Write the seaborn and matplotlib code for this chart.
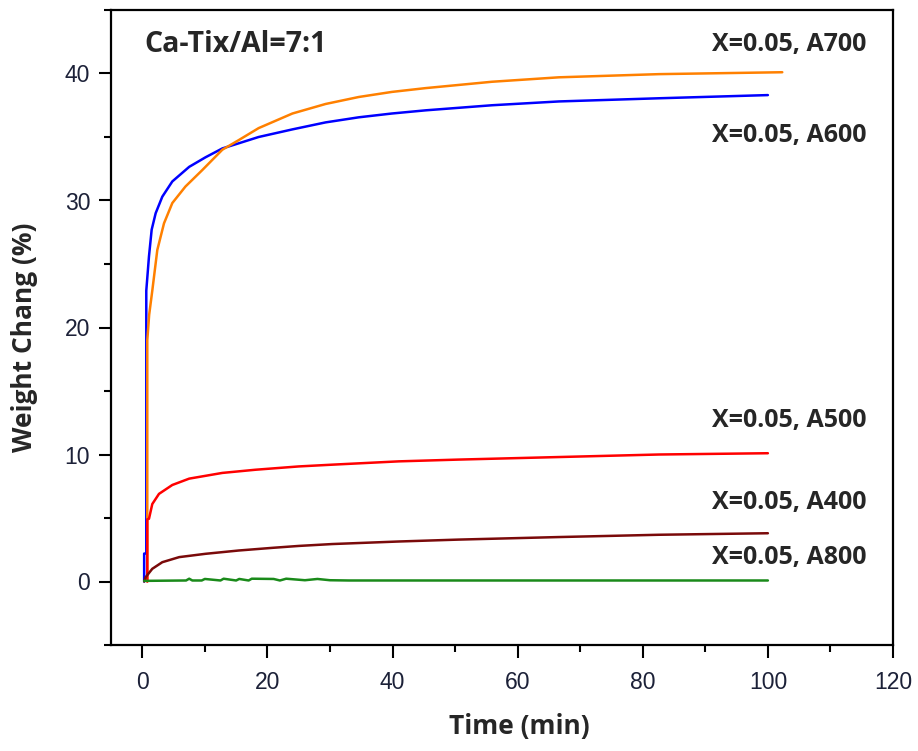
import matplotlib
matplotlib.use("Agg")
import matplotlib.pyplot as plt
from matplotlib.ticker import MultipleLocator
import seaborn as sns
import pandas as pd

# ---- data ----
t_a600 = [0.3, 0.3, 0.64, 0.64, 1.07, 1.5, 2.14, 3.2, 4.8, 7.5, 10.1, 12.8, 15.4, 18.6, 24.0, 29.3, 34.6, 39.9, 45.3, 50.6, 55.9, 66.6, 82.6, 100]
w_a600 = [0, 2.2, 2.2, 22.9, 25.6, 27.7, 29.0, 30.3, 31.5, 32.65, 33.4, 34.1, 34.5, 35.0, 35.6, 36.15, 36.55, 36.85, 37.1, 37.3, 37.5, 37.8, 38.05, 38.3]

t_a700 = [0.8, 0.8, 1.1, 1.6, 2.4, 3.47, 4.8, 6.9, 9.6, 12.8, 15.4, 18.6, 24.0, 29.3, 34.6, 39.9, 45.3, 50.6, 55.9, 66.6, 82.6, 102.3]
w_a700 = [0, 19, 21, 22.9, 26.1, 28.2, 29.8, 31.1, 32.4, 34.0, 34.75, 35.7, 36.85, 37.6, 38.15, 38.55, 38.85, 39.1, 39.35, 39.7, 39.95, 40.1]

t_a500 = [0.8, 0.8, 1.07, 1.6, 2.67, 4.8, 7.5, 12.8, 18.1, 25, 30.4, 41, 50.6, 66.6, 82.6, 100]
w_a500 = [0, 4.9, 4.94, 6.1, 6.9, 7.6, 8.1, 8.55, 8.8, 9.06, 9.2, 9.46, 9.6, 9.8, 10.0, 10.1]

t_a400 = [0.3, 0.54, 1.6, 3.2, 5.9, 10.1, 15.4, 20.8, 25, 30.4, 41, 50.6, 66.6, 82.6, 100]
w_a400 = [0, 0.34, 1.0, 1.52, 1.92, 2.18, 2.44, 2.65, 2.8, 2.95, 3.15, 3.3, 3.5, 3.68, 3.8]

t_a800 = [0.3, 7.0, 7.5, 8.0, 9.5, 10.0, 12.5, 13.0, 15.0, 15.5, 17.0, 17.5, 21.0, 22.0, 23.0, 26.0, 28.0, 30.0, 33.0, 40, 60, 80, 100]
w_a800 = [0.05, 0.08, 0.22, 0.08, 0.08, 0.2, 0.08, 0.22, 0.08, 0.2, 0.08, 0.22, 0.2, 0.08, 0.22, 0.1, 0.2, 0.1, 0.08, 0.08, 0.08, 0.08, 0.08]

series_names = ["X=0.05, A700", "X=0.05, A600", "X=0.05, A500", "X=0.05, A400", "X=0.05, A800"]
series_t = [t_a700, t_a600, t_a500, t_a400, t_a800]
series_w = [w_a700, w_a600, w_a500, w_a400, w_a800]
series_colors = ["#ff8000", "#0000ff", "#ff0000", "#7a0a0a", "#1a8a1a"]
label_y = [42.3, 35.1, 12.7, 6.25, 1.9]

x_ticks = [0, 20, 40, 60, 80, 100, 120]
y_ticks = [0, 10, 20, 30, 40]

# ---- plotting ----
sns.set_style("ticks")
plt.rcParams["font.family"] = ["Liberation Sans", "DejaVu Sans"]

fig = plt.figure(figsize=(9.18, 7.51), dpi=100)
ax = fig.add_axes([111 / 918, 106 / 751, (893 - 111) / 918, (645 - 10) / 751])

order = [1, 0, 2, 3, 4]
for i in order:
    df = pd.DataFrame({"t": series_t[i], "w": series_w[i]})
    sns.lineplot(data=df, x="t", y="w", ax=ax, color=series_colors[i],
                 linewidth=1.8, estimator=None, sort=False)

ax.set_xlim(-5, 120)
ax.set_ylim(-5, 45)
ax.set_xticks(x_ticks)
ax.set_yticks(y_ticks)
ax.xaxis.set_minor_locator(MultipleLocator(10))
ax.yaxis.set_minor_locator(MultipleLocator(5))

tick_color = "#1c2138"
ax.tick_params(which="major", direction="out", length=9, width=1.5,
               labelsize=16.5, labelcolor=tick_color, color="black")
ax.tick_params(which="minor", direction="out", length=5, width=1.5, color="black")
ax.tick_params(axis="x", pad=10)
ax.tick_params(axis="y", pad=6)
for sp in ax.spines.values():
    sp.set_visible(True)
    sp.set_linewidth(1.6)
    sp.set_color("black")

lab_font = ["Open Sans", "DejaVu Sans"]
ax.set_xlabel("Time (min)", fontsize=19, fontweight="bold", family=lab_font)
ax.set_ylabel("Weight Chang (%)", fontsize=19, fontweight="bold", family=lab_font)
ax.xaxis.set_label_coords(0.522, -0.107)
ax.yaxis.set_label_coords(-0.093, 0.485)

ax.text(0.3, 42.3, "Ca-Tix/Al=7:1", fontsize=20.5, fontweight="bold",
        family=lab_font, ha="left", va="center")
for name, yy in zip(series_names, label_y):
    ax.text(115.7, yy, name, fontsize=18, fontweight="bold",
            family=lab_font, ha="right", va="center")

fig.savefig("out.png", dpi=100)
